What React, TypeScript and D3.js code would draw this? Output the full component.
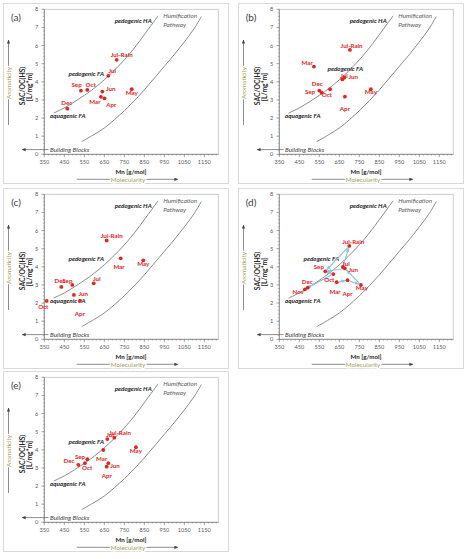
import React from "react";
import * as d3 from "d3";

// ---------- axis ticks ----------
const X_TICKS = [350, 450, 550, 650, 750, 850, 950, 1050, 1150];
const Y_TICKS = [0, 1, 2, 3, 4, 5, 6, 7, 8];
const X_DOMAIN = [350, 1220];
const Y_DOMAIN = [0, 8];

// ---------- guide curves (Mn, SAC/OC) ----------
const HA_CURVE_MN = [396, 450, 500, 550, 600, 650, 700, 750, 800, 850, 919];
const HA_CURVE_SAC = [2.27, 2.56, 2.89, 3.25, 3.65, 4.11, 4.63, 5.21, 5.86, 6.6, 7.64];
const PATH_CURVE_MN = [537, 600, 650, 700, 750, 800, 850, 900, 950, 1000, 1050, 1100, 1135];
const PATH_CURVE_SAC = [0.7, 1.1, 1.45, 1.9, 2.4, 2.95, 3.55, 4.2, 4.85, 5.5, 6.2, 6.95, 7.6];

// ---------- panel (a) ----------
const A_MONTHS = ["Jul-Rain", "Jul", "Sep", "Oct", "Jun", "Mar", "Apr", "May", "Dec"];
const A_MN = [712, 670, 533, 565, 640, 633, 651, 787, 465];
const A_SAC = [5.21, 4.33, 3.51, 3.55, 3.46, 3.17, 3.09, 3.59, 2.52];

// ---------- panel (b) ----------
const B_MONTHS = ["Jul-Rain", "Mar", "Jul", "Jun", "Dec", "Sep", "Oct", "Apr", "May"];
const B_MN = [703, 523, 665, 675, 550, 562, 604, 678, 808];
const B_SAC = [5.76, 4.84, 4.13, 4.23, 3.51, 3.4, 3.59, 3.18, 3.59];

// ---------- panel (c) ----------
const C_MONTHS = ["Jul-Rain", "Mar", "May", "Jul", "Dec", "Sep", "Jun", "Apr", "Oct"];
const C_MN = [662, 732, 845, 597, 435, 490, 498, 528, 362];
const C_SAC = [5.45, 4.47, 4.36, 3.09, 2.89, 3.0, 2.45, 2.12, 2.12];

// ---------- panel (d) ----------
const D_MONTHS = ["Jul-Rain", "Jul", "Jun", "Sep", "Oct", "Mar", "Apr", "May", "Dec", "Nov"];
const D_MN = [700, 668, 678, 580, 620, 637, 691, 758, 492, 478];
const D_SAC = [5.15, 3.99, 3.91, 3.75, 3.6, 3.15, 3.26, 3.0, 2.85, 2.76];
const D_ARROWS = [
  ["Mar", "Apr"],
  ["Apr", "May"],
  ["May", "Jun"],
  ["Jul", "Jul-Rain"],
  ["Jul-Rain", "Sep"],
  ["Jun", "Sep"],
  ["Sep", "Oct"],
  ["Oct", "Nov"],
  ["Nov", "Dec"],
];

// ---------- panel (e) ----------
const E_MONTHS = ["Jul-Rain", "Jul", "Mar", "May", "Sep", "Oct", "Dec", "Jun", "Apr"];
const E_MN = [700, 665, 645, 808, 565, 553, 520, 670, 662];
const E_SAC = [4.67, 4.59, 3.99, 4.14, 3.48, 3.26, 3.17, 3.26, 3.07];

// ---------- label placement (px offsets from each dot) ----------
const A_LABEL_OFF = {
  "Jul-Rain": [5, -5], Jul: [4, -5], Sep: [-4.3, -5.7], Oct: [3.4, -5], Jun: [8.4, -3],
  Mar: [-6, 4.7], Apr: [6.7, 7], May: [0, 3.4], Dec: [-0.6, -5.7],
};
const B_LABEL_OFF = {
  "Jul-Rain": [1.7, -4.3], Mar: [-6.7, -4], Jul: [1.7, -4], Jun: [9, -0.4], Dec: [-2, -6.7],
  Sep: [-11.7, -0.7], Oct: [-3.3, 5.7], Apr: [0, 12.6], May: [0, 3],
};
const C_LABEL_OFF = {
  "Jul-Rain": [5, -5], Mar: [-1.7, 8.7], May: [0, 3.7], Jul: [3, -4], Dec: [-1.3, -5.7],
  Sep: [-5, -4.3], Jun: [9.3, -0.7], Apr: [0, 13.3], Oct: [-3.4, 6],
};
const D_LABEL_OFF = {
  "Jul-Rain": [4, -4.3], Jul: [3, -3], Jun: [8.3, 1.5], Sep: [-6.5, -5], Oct: [-4, 5.6],
  Mar: [-1.7, 9.4], Apr: [0, 13.5], May: [1, 3.3], Dec: [-0.5, -6], Nov: [-6.7, 3],
};
const E_LABEL_OFF = {
  "Jul-Rain": [5.7, -5], Jul: [2.7, -4.3], Mar: [-1.6, 8.7], May: [0, 3.7], Sep: [-7.3, -2],
  Oct: [2.3, 4.4], Dec: [-9.3, -4], Jun: [6.7, 2.4], Apr: [0, 9.3],
};

// ---------- layout ----------
const W = 471;
const H = 559;
const PL = 44.3, PR = 218.3, PT = 9.3, PB = 154.3;
const FONT = "Lato, 'Liberation Sans', sans-serif";
const RED = "#e0261f";
const OLIVE = "#a8a05a";

type PanelProps = {
  tag: string;
  ox: number;
  oy: number;
  months: string[];
  mn: number[];
  sac: number[];
  labelOff: Record<string, number[]>;
  faPos: number[];
  arrows?: string[][];
};

function Panel({ tag, ox, oy, months, mn, sac, labelOff, faPos, arrows }: PanelProps) {
  const x = d3.scaleLinear().domain(X_DOMAIN).range([PL, PR]);
  const y = d3.scaleLinear().domain(Y_DOMAIN).range([PB, PT]);
  const line = d3
    .line<number>()
    .x((_, i) => 0)
    .y(() => 0);
  const mkCurve = (xs: number[], ys: number[]) =>
    d3
      .line<number>()
      .x((d) => x(d))
      .y((_, i) => y(ys[i]))
      .curve(d3.curveCatmullRom)(xs) || "";
  void line;

  const xMinor = d3.range(X_DOMAIN[0], X_DOMAIN[1] + 0.01, 20);
  const yMinor = d3.range(0, 8.001, 0.2);

  const idx: Record<string, number> = {};
  months.forEach((m, i) => (idx[m] = i));

  return (
    <g transform={`translate(${ox},${oy})`}>
      {/* panel frame */}
      <rect x={3.5} y={3.5} width={225} height={180} fill="#fff" stroke="#d9d9d9" strokeWidth={1} />
      {/* plot area border */}
      <rect x={PL} y={PT} width={PR - PL} height={PB - PT} fill="none" stroke="#bfbfbf" strokeWidth={0.8} />
      {/* axes */}
      <line x1={PL} x2={PL} y1={PT} y2={PB} stroke="#7f7f7f" strokeWidth={0.8} />
      <line x1={PL} x2={PR} y1={PB} y2={PB} stroke="#7f7f7f" strokeWidth={0.8} />
      {xMinor.map((v) => (
        <line key={"xm" + v} x1={x(v)} x2={x(v)} y1={PB} y2={PB + 1.5} stroke="#7f7f7f" strokeWidth={0.5} />
      ))}
      {X_TICKS.map((v) => (
        <g key={"xt" + v}>
          <line x1={x(v)} x2={x(v)} y1={PB} y2={PB + 3} stroke="#7f7f7f" strokeWidth={0.6} />
          <text x={x(v)} y={PB + 10} textAnchor="middle" fontSize={5.6} fill="#595959" fontFamily={FONT}>
            {v}
          </text>
        </g>
      ))}
      {yMinor.map((v, i) => (
        <line key={"ym" + i} x1={PL - 1.5} x2={PL} y1={y(v)} y2={y(v)} stroke="#7f7f7f" strokeWidth={0.5} />
      ))}
      {Y_TICKS.map((v) => (
        <g key={"yt" + v}>
          <line x1={PL - 3} x2={PL} y1={y(v)} y2={y(v)} stroke="#7f7f7f" strokeWidth={0.6} />
          <text x={PL - 6} y={y(v)} dy="0.35em" textAnchor="end" fontSize={5.6} fill="#595959" fontFamily={FONT}>
            {v}
          </text>
        </g>
      ))}

      {/* axis titles */}
      <text x={131} y={172} dy="0.35em" textAnchor="middle" fontSize={6.2} fontWeight="bold" fill="#262626" fontFamily={FONT}>
        Mn [g/mol]
      </text>
      <text transform="translate(24.5,86) rotate(-90)" textAnchor="middle" fontSize={6.8} fontWeight="bold" fill="#262626" fontFamily={FONT}>
        SAC/OC(HS)
      </text>
      <text transform="translate(32.3,87) rotate(-90)" textAnchor="middle" fontSize={6.8} fontWeight="bold" fill="#262626" fontFamily={FONT}>
        [L/mg*m]
      </text>

      {/* Molecularity arrow */}
      <line x1={76.7} x2={178} y1={179.3} y2={179.3} stroke="#404040" strokeWidth={0.6} markerEnd="url(#grayArrow)" />
      <text x={128} y={179.3} dy="0.35em" textAnchor="middle" fontSize={6.3} fill={OLIVE} fontFamily={FONT}
        stroke="#fff" strokeWidth={2.5} paintOrder="stroke">
        Molecularity
      </text>
      {/* Aromaticity arrow */}
      <line x1={8.5} x2={8.5} y1={125} y2={40} stroke="#404040" strokeWidth={0.6} markerEnd="url(#grayArrow)" />
      <text transform="translate(8.5,83) rotate(-90)" dy="0.35em" textAnchor="middle" fontSize={6.3} fill={OLIVE} fontFamily={FONT}
        stroke="#fff" strokeWidth={2.5} paintOrder="stroke">
        Aromaticity
      </text>
      {/* Building blocks arrow */}
      <line x1={48.5} x2={22} y1={149.6} y2={149.6} stroke="#404040" strokeWidth={0.6} markerEnd="url(#grayArrow)" />
      <text x={50} y={149.8} dy="0.35em" fontSize={6.3} fontStyle="italic" fill="#404040" fontFamily={FONT}>
        Building Blocks
      </text>

      {/* guide curves */}
      <path d={mkCurve(HA_CURVE_MN, HA_CURVE_SAC)} fill="none" stroke="#595959" strokeWidth={0.7} />
      <path d={mkCurve(PATH_CURVE_MN, PATH_CURVE_SAC)} fill="none" stroke="#595959" strokeWidth={0.7} />

      {/* annotations */}
      <text x={133.2} y={20.7} dy="0.35em" textAnchor="middle" fontSize={6.3} fontWeight="bold" fontStyle="italic" fill="#1a1a1a" fontFamily={FONT}>
        pedogenic HA
      </text>
      <text x={163.3} y={16} dy="0.35em" fontSize={6.3} fontStyle="italic" fill="#595959" fontFamily={FONT}>
        Humification
      </text>
      <text x={163.3} y={25} dy="0.35em" fontSize={6.3} fontStyle="italic" fill="#595959" fontFamily={FONT}>
        Pathway
      </text>
      <text x={faPos[0]} y={faPos[1]} dy="0.35em" textAnchor="middle" fontSize={6.3} fontWeight="bold" fontStyle="italic" fill="#1a1a1a" fontFamily={FONT}>
        pedogenic FA
      </text>
      <text x={67.8} y={115.8} dy="0.35em" textAnchor="middle" fontSize={6.3} fontWeight="bold" fontStyle="italic" fill="#1a1a1a" fontFamily={FONT}>
        aquagenic FA
      </text>

      {/* seasonal arrows */}
      {arrows &&
        arrows.map(([a, b], k) => {
          const i = idx[a], j = idx[b];
          const x1 = x(mn[i]), y1 = y(sac[i]), x2 = x(mn[j]), y2 = y(sac[j]);
          const len = Math.hypot(x2 - x1, y2 - y1) || 1;
          const s = 2.2 / len;
          return (
            <line key={"ar" + k} x1={x1 + (x2 - x1) * s} y1={y1 + (y2 - y1) * s}
              x2={x2 - (x2 - x1) * s} y2={y2 - (y2 - y1) * s}
              stroke="#8fc1e3" strokeWidth={1.2} markerEnd="url(#blueArrow)" />
          );
        })}

      {/* points */}
      {months.map((m, i) => (
        <circle key={"p" + m} cx={x(mn[i])} cy={y(sac[i])} r={1.9} fill={RED} />
      ))}
      {months.map((m, i) => {
        const off = labelOff[m] || [0, -5];
        return (
          <text key={"l" + m} x={x(mn[i]) + off[0]} y={y(sac[i]) + off[1]} dy="0.35em" textAnchor="middle"
            fontSize={6.2} fontWeight="bold" fill={RED} fontFamily={FONT}>
            {m}
          </text>
        );
      })}

      {/* panel tag */}
      <text x={16} y={17} dy="0.35em" textAnchor="middle" fontSize={10} fill="#404040" fontFamily={FONT}>
        {tag}
      </text>
    </g>
  );
}

export default function App() {
  return (
    <div style={{ position: "absolute", left: 0, top: 0, width: W, height: H, background: "#fff" }}>
      <svg width={W} height={H} viewBox={`0 0 ${W} ${H}`} style={{ display: "block" }}>
        <defs>
          <marker id="grayArrow" viewBox="0 0 10 10" refX={9} refY={5} markerWidth={4} markerHeight={4}
            markerUnits="userSpaceOnUse" orient="auto">
            <path d="M0,1 L10,5 L0,9 z" fill="#404040" />
          </marker>
          <marker id="blueArrow" viewBox="0 0 10 10" refX={9} refY={5} markerWidth={4.5} markerHeight={4.5}
            markerUnits="userSpaceOnUse" orient="auto">
            <path d="M0,1 L10,5 L0,9 z" fill="#8fc1e3" />
          </marker>
        </defs>
        <rect x={0} y={0} width={W} height={H} fill="#fff" />
        <Panel tag="(a)" ox={0} oy={0} months={A_MONTHS} mn={A_MN} sac={A_SAC} labelOff={A_LABEL_OFF} faPos={[86.3, 74]} />
        <Panel tag="(b)" ox={235} oy={0} months={B_MONTHS} mn={B_MN} sac={B_SAC} labelOff={B_LABEL_OFF} faPos={[110.3, 68.3]} />
        <Panel tag="(c)" ox={0} oy={185} months={C_MONTHS} mn={C_MN} sac={C_SAC} labelOff={C_LABEL_OFF} faPos={[86.3, 74]} />
        <Panel tag="(d)" ox={235} oy={185} months={D_MONTHS} mn={D_MN} sac={D_SAC} labelOff={D_LABEL_OFF} faPos={[86.3, 74]} arrows={D_ARROWS} />
        <Panel tag="(e)" ox={0} oy={368} months={E_MONTHS} mn={E_MN} sac={E_SAC} labelOff={E_LABEL_OFF} faPos={[86.3, 74]} />
      </svg>
    </div>
  );
}
